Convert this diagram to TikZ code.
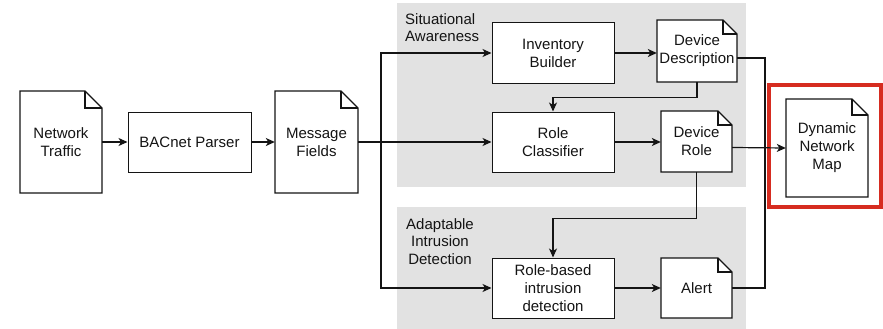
\documentclass[tikz,border=0pt]{standalone}
\usepackage{fontspec}
\setmainfont{Liberation Sans}
\usetikzlibrary{arrows.meta,calc}
\definecolor{panelgray}{RGB}{226,226,226}
\definecolor{framered}{RGB}{214,44,32}
\definecolor{inkc}{RGB}{20,20,20}
\tikzset{
  line/.style={draw=inkc, line width=1.2pt},
  arr/.style={line, -{Stealth[length=9pt,width=8pt,inset=2.5pt]}},
  txt/.style={font=\fontsize{15}{18}\selectfont, text=inkc, align=center, inner sep=0pt},
  boxnode/.style={txt, draw=inkc, line width=1pt, fill=white},
  docline/.style={line, fill=white, line join=miter},
  panel/.style={fill=panelgray, draw=none},
  paneltxt/.style={font=\fontsize{15}{17.5}\selectfont, text=inkc, inner sep=0pt},
}
% #1 fold, #2 name, #3 x1, #4 y1, #5 x2, #6 y2, #7 text
\newcommand\docnode[7][15]{%
  \filldraw[docline] (#3,#4) -- ({#5-#1},#4) -- (#5,{#4+#1}) -- (#5,#6) -- (#3,#6) -- cycle;
  \draw[docline, fill=none] ({#5-#1},#4) -- ({#5-#1},{#4+#1}) -- (#5,{#4+#1});
  \node[txt, minimum width={(#5-#3)*1pt}, minimum height={(#6-#4)*1pt}] (#2) at ({(#3+#5)/2},{(#4+#6)/2}) {#7};%
}
\begin{document}
\begin{tikzpicture}[x=1pt,y=-1pt]
\useasboundingbox (0,0) rectangle (883,329);
% panels
\fill[panel] (397,3) rectangle (746,187);
\fill[panel] (397,207) rectangle (746,329);
\node[paneltxt, align=left, anchor=north west] (satitle) at (405,13) {Situational\\Awareness};
\node[paneltxt, align=center, anchor=north] (aidtitle) at (440,218) {Adaptable\\Intrusion\\Detection};
% left chain
\docnode[17]{nt}{20}{91}{102}{193}{Network\\Traffic}
\node[boxnode, minimum width=123pt, minimum height=60pt] (bp) at (189.5,142) {BACnet Parser};
\docnode[17]{mf}{275}{91}{358}{193}{Message\\Fields}
% situational awareness
\node[boxnode, minimum width=122pt, minimum height=60pt] (ib) at (553,53) {Inventory\\Builder};
\docnode[14]{dd}{657}{20}{737}{82}{Device\\Description}
\node[boxnode, minimum width=122pt, minimum height=60pt] (rc) at (553,142) {Role\\Classifier};
\docnode[14]{dr}{661}{111}{732}{172}{Device\\Role}
% adaptable intrusion detection
\node[boxnode, minimum width=122pt, minimum height=60pt] (rb) at (553,288) {Role-based\\intrusion\\detection};
\docnode[14]{al}{661}{258}{732}{318}{Alert}
% dynamic network map
\draw[framered, line width=4.5pt] (769,85) rectangle (881,207);
\docnode[16]{dnm}{786}{99}{868}{197}{Dynamic\\Network\\Map}
% connectors
\coordinate (split) at (381,142);
\coordinate (bus) at (765,148);
\draw[arr] (nt.east |- bp.west) -- (bp.west);
\draw[arr] (bp.east) -- (mf.west |- bp.east);
\draw[line] (mf.east |- split) -- (split);
\draw[arr] (split) |- (ib.west);
\draw[arr] (split) -- (rc.west);
\draw[arr] (split) |- (rb.west);
\draw[arr] (ib.east) -- (dd.west |- ib.east);
\draw[arr] (rc.east) -- (dr.west |- rc.east);
\draw[arr] (rb.east) -- (al.west |- rb.east);
\draw[arr] (dd.south) -- ++(0,15) -| (rc.north);
\draw[arr] (dr.south) -- ++(0,46) -| (rb.north);
\draw[line] ([yshift=-7pt]dd.east) -| (bus);
\draw[line] (al.east) -| (bus);
\draw[arr] ([yshift=-6pt]dr.east) -- (dnm.west);
\end{tikzpicture}
\end{document}
